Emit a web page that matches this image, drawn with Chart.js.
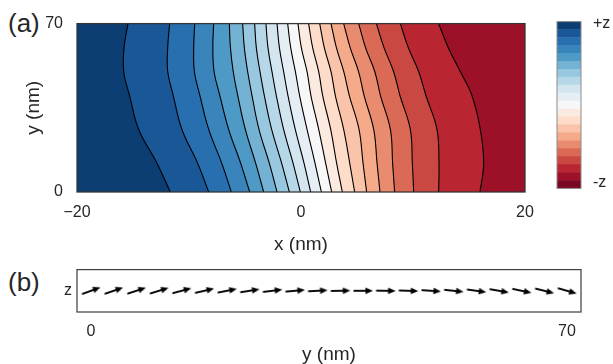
<!DOCTYPE html>
<html>
<head>
<meta charset="utf-8">
<script src="https://cdn.jsdelivr.net/npm/chart.js@4.4.0/dist/chart.umd.min.js"></script>
<style>
  body { margin: 0; width: 613px; height: 364px; overflow: hidden; background: #fff; position: relative; }
  canvas { position: absolute; }
  .tag { position: absolute; font: 26px 'Liberation Sans', Arial, sans-serif; line-height: 30px; color: #262626; }
</style>
</head>
<body>
<div class="tag" style="left:8px; top:8px">(a)</div>
<div class="tag" style="left:8px; top:267px">(b)</div>
<canvas id="contour" width="545" height="258" style="left:0; top:0"></canvas>
<canvas id="cbar" width="73" height="210" style="left:540px; top:0"></canvas>
<canvas id="arrows" width="613" height="112" style="left:0; top:255px"></canvas>
<script>
// contour lines of panel (a): x (nm) of each of the 19 lines, sampled at these y (nm)
const ySamples = [70, 60, 50, 40, 26, 12, 0];
const xAt70 = [-15.45, -11.73, -9.49, -7.80, -6.40, -5.21, -4.14, -3.13, -2.14, -1.19, -0.27, 0.68, 1.67, 2.68, 3.81, 5.15, 6.73, 8.87, 12.29];
const xAt60 = [-15.80, -11.90, -9.58, -7.87, -6.30, -5.06, -3.99, -2.95, -1.93, -0.92, 0.03, 1.04, 2.08, 3.16, 4.39, 5.76, 7.41, 9.58, 13.15];
const xAt50 = [-15.83, -11.90, -9.52, -7.76, -6.05, -4.76, -3.66, -2.59, -1.55, -0.50, 0.54, 1.58, 2.68, 3.82, 5.14, 6.59, 8.27, 10.51, 14.23];
const xAt40 = [-15.30, -11.40, -9.02, -7.24, -5.64, -4.37, -3.27, -2.20, -1.16, -0.12, 0.89, 1.94, 3.07, 4.32, 5.64, 7.10, 8.84, 11.16, 15.27];
const xAt26 = [-14.49, -10.63, -8.24, -6.46, -4.97, -3.75, -2.62, -1.55, -0.51, 0.54, 1.58, 2.65, 3.81, 5.18, 6.49, 7.98, 9.76, 12.14, 16.01];
const xAt12 = [-12.86, -9.23, -7.08, -5.39, -4.05, -2.83, -1.73, -0.71, 0.27, 1.25, 2.20, 3.18, 4.35, 5.54, 6.79, 8.18, 9.94, 12.32, 16.31];
const xAt0 = [-11.67, -8.24, -6.22, -4.58, -3.33, -2.14, -1.04, -0.06, 0.86, 1.82, 2.74, 3.69, 4.79, 5.86, 7.05, 8.36, 10.06, 12.29, 15.98];
const xRows = [xAt70, xAt60, xAt50, xAt40, xAt26, xAt12, xAt0];

// RdBu levels, bottom (-z) to top (+z)
const levelColors = ['#790622', '#9d1128', '#b92632', '#ca4842', '#da6a55', '#e98b6e', '#f5aa89',
  '#f9c4a9', '#fddcc9', '#faeae0', '#f7f7f7', '#e5eef4', '#d3e6f0', '#b6d7e8', '#98c8e0',
  '#74b2d4', '#4e9ac7', '#3884bb', '#286fb0', '#195797', '#0c3d73'];
const xTicks = [-20, 0, 20];
const yTicks = [0, 70];
const cbarTicks = [0.7, 20.75];
const cbarLabels = ['-z', '+z'];

// panel (b): in-plane arrows along y
const arrowY = [0, 3.33, 6.67, 10, 13.33, 16.67, 20, 23.33, 26.67, 30, 33.33, 36.67, 40, 43.33, 46.67, 50, 53.33, 56.67, 60, 63.33, 66.67, 70];
const arrowAngle = [20, 19, 18, 17, 15, 13, 11, 9, 7, 5, 3, 1, 0, -1, -2, -4, -6, -8, -10, -12, -14, -16];
const arrowTicks = [0, 70];

Chart.defaults.font.family = "'Liberation Sans', Arial, sans-serif";
Chart.defaults.color = '#262626';

const ink = '#262626';
const minus = (v) => (v < 0 ? '\u2212' + Math.abs(v) : String(v));

const frame = (color, width) => ({
  id: 'frame',
  afterDatasetsDraw(chart) {
    const { ctx, chartArea: a } = chart;
    ctx.save();
    ctx.strokeStyle = color;
    ctx.lineWidth = width;
    ctx.strokeRect(a.left, a.top, a.right - a.left, a.bottom - a.top);
    ctx.restore();
  },
});

// band to the right of the last contour line
const plotBg = {
  id: 'plotBg',
  beforeDatasetsDraw(chart) {
    const { ctx, chartArea: a } = chart;
    ctx.save();
    ctx.fillStyle = levelColors[1];
    ctx.fillRect(a.left, a.top, a.right - a.left, a.bottom - a.top);
    ctx.restore();
  },
};

const lineDatasets = xAt70.map((_, k) => ({
  data: ySamples.map((y, j) => ({ x: xRows[j][k], y })),
  fill: k === 0 ? { value: -20 } : '-1',
  backgroundColor: levelColors[20 - k],
  borderColor: '#000',
  borderWidth: 1.1,
  pointRadius: 0,
  tension: 0.4,
}));

new Chart(document.getElementById('contour'), {
  type: 'line',
  data: { datasets: lineDatasets },
  options: {
    indexAxis: 'y',
    responsive: false,
    animation: false,
    devicePixelRatio: 1,
    events: [],
    layout: { padding: { left: 0, top: 19, right: 20, bottom: 0 } },
    plugins: { legend: { display: false }, tooltip: { enabled: false } },
    scales: {
      x: {
        type: 'linear', min: -20, max: 20,
        grid: { display: false, drawTicks: false }, border: { display: false },
        afterBuildTicks: (s) => { s.ticks = xTicks.map((v) => ({ value: v })); },
        afterFit: (s) => { s.height = 66; },
        ticks: { padding: 11, font: { size: 16 }, color: ink, callback: minus },
        title: { display: true, text: 'x (nm)', font: { size: 19 }, color: ink, padding: { top: 0, bottom: 1.6 } },
      },
      y: {
        type: 'linear', min: 0, max: 70,
        grid: { display: false, drawTicks: false }, border: { display: false },
        afterBuildTicks: (s) => { s.ticks = yTicks.map((v) => ({ value: v })); },
        afterFit: (s) => { s.width = 77; },
        ticks: { padding: 14, font: { size: 16 }, color: ink },
        title: { display: true, text: 'y (nm)', font: { size: 19 }, color: ink, padding: { top: 22, bottom: 0 } },
      },
    },
  },
  plugins: [plotBg, frame('#333', 1.25)],
});

new Chart(document.getElementById('cbar'), {
  type: 'bar',
  data: {
    labels: [''],
    datasets: levelColors.map((c) => ({
      data: [1], backgroundColor: c, borderWidth: 0, barPercentage: 1, categoryPercentage: 1,
    })),
  },
  options: {
    responsive: false,
    animation: false,
    devicePixelRatio: 1,
    events: [],
    layout: { padding: { left: 17, top: 19, right: 0, bottom: 17 } },
    plugins: { legend: { display: false }, tooltip: { enabled: false } },
    scales: {
      x: { display: false, stacked: true },
      y: {
        stacked: true, min: 0, max: 21, position: 'right',
        grid: { display: false, drawTicks: false }, border: { display: false },
        afterBuildTicks: (s) => { s.ticks = cbarTicks.map((v) => ({ value: v })); },
        afterFit: (s) => { s.width = 32; },
        ticks: { padding: 12, font: { size: 16 }, color: ink, callback: (v, i) => cbarLabels[i] },
      },
    },
  },
  plugins: [frame('#8c8c8c', 1)],
});

function arrowGlyph() {
  const c = document.createElement('canvas');
  c.width = 20;
  c.height = 8;
  const g = c.getContext('2d');
  g.strokeStyle = '#000';
  g.lineWidth = 1.9;
  g.beginPath();
  g.moveTo(0.5, 4);
  g.lineTo(14, 4);
  g.stroke();
  g.fillStyle = '#000';
  g.beginPath();
  g.moveTo(20, 4);
  g.lineTo(12.5, 0.8);
  g.lineTo(12.5, 7.2);
  g.closePath();
  g.fill();
  return c;
}

new Chart(document.getElementById('arrows'), {
  type: 'scatter',
  data: {
    datasets: [{
      data: arrowY.map((y) => ({ x: y, y: 0 })),
      pointStyle: arrowGlyph(),
      pointRadius: 10,
      pointRotation: (ctx) => -arrowAngle[ctx.dataIndex],
    }],
  },
  options: {
    responsive: false,
    animation: false,
    devicePixelRatio: 1,
    events: [],
    layout: { padding: { left: 0, top: 13, right: 32, bottom: 0 } },
    plugins: { legend: { display: false }, tooltip: { enabled: false } },
    scales: {
      x: {
        type: 'linear', min: -2.06, max: 72.06,
        grid: { display: false, drawTicks: false }, border: { display: false },
        afterBuildTicks: (s) => { s.ticks = arrowTicks.map((v) => ({ value: v })); },
        afterFit: (s) => { s.height = 55; },
        ticks: { padding: 10, font: { size: 16 }, color: ink },
        title: { display: true, text: 'y (nm)', font: { size: 19 }, color: ink, padding: { top: 0, bottom: 0.6 } },
      },
      y: {
        type: 'linear', min: -1, max: 1,
        grid: { display: false, drawTicks: false }, border: { display: false },
        afterBuildTicks: (s) => { s.ticks = [{ value: 0 }]; },
        afterFit: (s) => { s.width = 77; },
        ticks: { padding: 5, font: { size: 16 }, color: ink, callback: () => 'z' },
      },
    },
  },
  plugins: [frame('#444', 1.25)],
});
</script>
</body>
</html>
